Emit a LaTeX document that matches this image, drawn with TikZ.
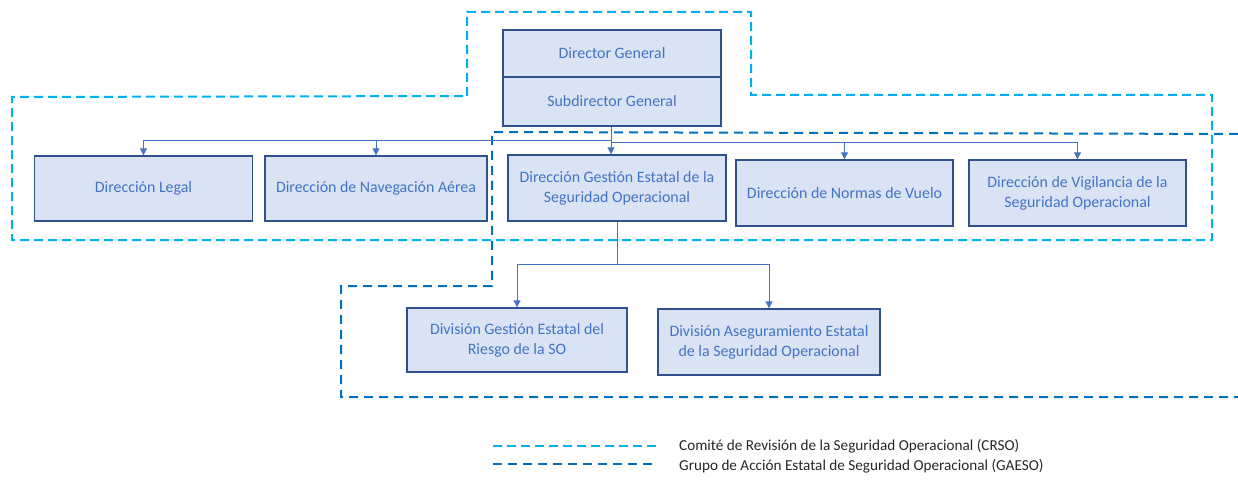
\documentclass[tikz,border=0pt]{standalone}
\usepackage{fontspec}
\setmainfont{Carlito}
\usetikzlibrary{arrows.meta}
\definecolor{boxfill}{HTML}{DAE3F3}
\definecolor{boxdraw}{HTML}{2F528F}
\definecolor{boxtext}{HTML}{4472C4}
\definecolor{crso}{HTML}{00B0F0}
\definecolor{gaeso}{HTML}{0070C0}
\tikzset{
  orgbox/.style={draw=boxdraw, fill=boxfill, line width=1.4pt, text=boxtext,
    font=\fontsize{15.9}{20}\selectfont, align=center, inner sep=2pt},
  conn/.style={draw=boxtext, line width=1pt},
  connarrow/.style={conn, -{Triangle[width=7pt,length=7pt]}},
  crsoline/.style={draw=crso, line width=2pt, dash pattern=on 9pt off 5pt},
  gaesoline/.style={draw=gaeso, line width=2pt, dash pattern=on 9pt off 6pt},
  legtext/.style={anchor=west, text=black!85, font=\fontsize{15.2}{18}\selectfont, inner sep=0pt}
}
\begin{document}
\begin{tikzpicture}[x=1pt,y=-1pt]
\useasboundingbox (0,0) rectangle (1238,481);
% group outlines
\draw[crsoline] (467,96) -- (467,12) -- (751,12) -- (751,95) -- (1212,95) -- (1212,240) -- (12,240) -- (12,97) -- cycle;
\draw[gaesoline] (1238,134) -- (492,132) -- (492,286) -- (341,286) -- (341,397) -- (1238,397);
% boxes
\node[orgbox, minimum width=218pt, minimum height=47pt] (dir) at (612,53.5) {Director General};
\node[orgbox, minimum width=218pt, minimum height=49pt] (sub) at (612,101.5) {Subdirector General};
\node[orgbox, minimum width=218pt, minimum height=65pt] (legal) at (143.5,188.5) {Dirección Legal};
\node[orgbox, minimum width=222pt, minimum height=65pt] (nav) at (376,188.5) {Dirección de Navegación Aérea};
\node[orgbox, minimum width=218pt, minimum height=66pt] (dges) at (617,188) {Dirección Gestión Estatal de la\\Seguridad Operacional};
\node[orgbox, minimum width=217pt, minimum height=66pt] (norm) at (844.5,193) {Dirección de Normas de Vuelo};
\node[orgbox, minimum width=217pt, minimum height=66pt] (vig) at (1077.5,193) {Dirección de Vigilancia de la\\Seguridad Operacional};
\node[orgbox, minimum width=220pt, minimum height=64pt] (div1) at (517,340) {División Gestión Estatal del\\Riesgo de la SO};
\node[orgbox, minimum width=222pt, minimum height=66pt] (div2) at (769,342) {División Aseguramiento Estatal\\de la Seguridad Operacional};
% connectors
\coordinate (busL) at (611,141);
\coordinate (busR) at (611,143);
\coordinate (busD) at (617,264);
\draw[connarrow] (sub.south -| busL) -- (busL |- dges.north);
\draw[connarrow] (busL) -| (legal.north);
\draw[connarrow] (nav.north |- busL) -- (nav.north);
\draw[connarrow] (busR) -| (vig.north);
\draw[connarrow] (norm.north |- busR) -- (norm.north);
\draw[conn] (dges.south -| busD) -- (busD);
\draw[connarrow] (busD) -| (div1.north);
\draw[connarrow] (busD) -| (div2.north);
% legend
\coordinate (l1a) at (493,446); \coordinate (l1b) at (658,446);
\coordinate (l2a) at (493,464); \coordinate (l2b) at (658,464);
\draw[crsoline] (l1a) -- (l1b);
\draw[gaesoline] (l2a) -- (l2b);
\node[legtext] (t1) at (679,446) {Comité de Revisión de la Seguridad Operacional (CRSO)};
\node[legtext] (t2) at (679,466) {Grupo de Acción Estatal de Seguridad Operacional (GAESO)};
\end{tikzpicture}
\end{document}
